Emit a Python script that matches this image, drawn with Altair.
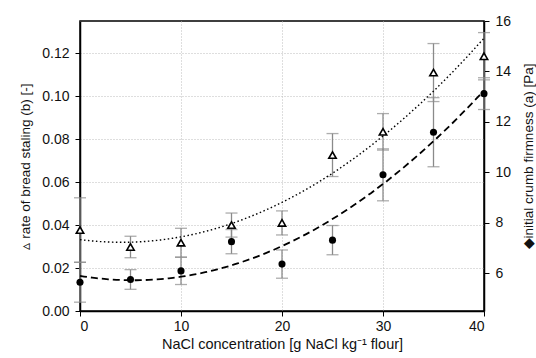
import altair as alt
import pandas as pd

# NaCl concentration [g NaCl / kg flour]
conc = [0, 5, 10, 15, 20, 25, 30, 35, 40]
# rate of bread staling (b) [-]  (open triangles, left axis)
staling_b = [0.0377, 0.0298, 0.0318, 0.0400, 0.0410, 0.0726, 0.0834, 0.1110, 0.1186]
staling_err = [0.0150, 0.0050, 0.0067, 0.0056, 0.0056, 0.0100, 0.0085, 0.0135, 0.0110]
# initial crumb firmness (a) [Pa]  (filled circles, right axis)
firmness_a = [5.64, 5.75, 6.09, 7.25, 6.36, 7.31, 9.90, 11.59, 13.12]
firmness_err = [0.79, 0.39, 0.54, 0.48, 0.56, 0.58, 1.03, 1.37, 0.63]

df = pd.DataFrame({
    "conc": conc,
    "b": staling_b,
    "b_lo": [v - e for v, e in zip(staling_b, staling_err)],
    "b_hi": [v + e for v, e in zip(staling_b, staling_err)],
    "a": firmness_a,
    "a_lo": [v - e for v, e in zip(firmness_a, firmness_err)],
    "a_hi": [v + e for v, e in zip(firmness_a, firmness_err)],
})

FONT = "Liberation Sans"
GRID = "#bdbdbd"
ERR = "#8a8a8a"

xaxis = alt.Axis(values=[0, 10, 20, 30, 40], format="d",
                 title="NaCl concentration [g NaCl kg⁻¹ flour]",
                 grid=True, gridColor=GRID, gridDash=[1, 2], gridWidth=1,
                 domainColor="black", domainWidth=1.5,
                 tickColor="black", tickSize=5,
                 labelFont=FONT, labelFontSize=14, labelColor="#111",
                 labelPadding=3,
                 titleFont=FONT, titleFontSize=14.5, titleFontWeight="normal",
                 titleColor="#111", titlePadding=4)
xscale = alt.Scale(domain=[0, 40], nice=False, zero=False)

laxis = alt.Axis(values=[0, 0.02, 0.04, 0.06, 0.08, 0.10, 0.12], format=".2f",
                 title="▵ rate of bread staling (b) [-]",
                 grid=True, gridColor=GRID, gridDash=[1, 2], gridWidth=1,
                 domainColor="black", domainWidth=1.5,
                 tickColor="black", tickSize=5,
                 labelFont=FONT, labelFontSize=14, labelColor="#111",
                 labelPadding=6,
                 titleFont=FONT, titleFontSize=13.5, titleFontWeight="normal",
                 titleColor="#111", titlePadding=9)
lscale = alt.Scale(domain=[0, 0.135], nice=False, zero=False)

raxis = alt.Axis(orient="right", values=[6, 8, 10, 12, 14, 16], format="d",
                 title="◆initial crumb firmness (a) [Pa]", titleAngle=270,
                 titleX=44, titleY=135, titleAlign="center", titleBaseline="middle",
                 grid=False,
                 domainColor="black", domainWidth=1.5,
                 tickColor="black", tickSize=5,
                 labelFont=FONT, labelFontSize=14, labelColor="#111",
                 labelPadding=6,
                 titleFont=FONT, titleFontSize=13.5, titleFontWeight="normal",
                 titleColor="#111")
rscale = alt.Scale(domain=[4.5, 16], nice=False, zero=False)


def X():
    return alt.X("conc:Q", scale=xscale, axis=xaxis)


def YL(field):
    return alt.Y(field, type="quantitative", scale=lscale, axis=laxis)


def YR(field):
    return alt.Y(field, type="quantitative", scale=rscale, axis=raxis)


base = alt.Chart(df)

# ---- left: rate of bread staling ----
l_rule = base.mark_rule(color=ERR, strokeWidth=1.3).encode(x=X(), y=YL("b_lo"), y2="b_hi:Q")
l_cap_lo = base.mark_tick(color=ERR, size=12, thickness=1.3, orient="horizontal").encode(
    x=X(), y=YL("b_lo"))
l_cap_hi = base.mark_tick(color=ERR, size=12, thickness=1.3, orient="horizontal").encode(
    x=X(), y=YL("b_hi"))
l_fit = base.transform_regression("conc", "b", method="poly", order=2, extent=[0, 40]).mark_line(
    color="black", strokeDash=[1.5, 2.5], strokeWidth=1.4).encode(x=X(), y=YL("b"))
l_pts = base.mark_point(shape="triangle-up", filled=True, fill="white", stroke="black",
                        strokeWidth=1.6, size=55, opacity=1).encode(x=X(), y=YL("b"))
left = alt.layer(l_rule, l_cap_lo, l_cap_hi, l_fit, l_pts)

# ---- right: initial crumb firmness ----
r_rule = base.mark_rule(color=ERR, strokeWidth=1.3).encode(x=X(), y=YR("a_lo"), y2="a_hi:Q")
r_cap_lo = base.mark_tick(color=ERR, size=12, thickness=1.3, orient="horizontal").encode(
    x=X(), y=YR("a_lo"))
r_cap_hi = base.mark_tick(color=ERR, size=12, thickness=1.3, orient="horizontal").encode(
    x=X(), y=YR("a_hi"))
r_fit = base.transform_regression("conc", "a", method="poly", order=2, extent=[0, 40]).mark_line(
    color="black", strokeDash=[7, 4], strokeWidth=1.8).encode(x=X(), y=YR("a"))
r_pts = base.mark_point(shape="circle", filled=True, color="black", size=50,
                        opacity=1).encode(x=X(), y=YR("a"))
right = alt.layer(r_rule, r_cap_lo, r_cap_hi, r_fit, r_pts)

chart = alt.layer(left, right).resolve_scale(y="independent").properties(
    width=404, height=290,
    autosize=alt.AutoSizeParams(type="none"),
    padding={"left": 80, "top": 21, "right": 52, "bottom": 47},
    background="white",
).configure_view(stroke="black", strokeWidth=1.5)

chart.save("out.html", embed_options={"renderer": "svg", "actions": False})
